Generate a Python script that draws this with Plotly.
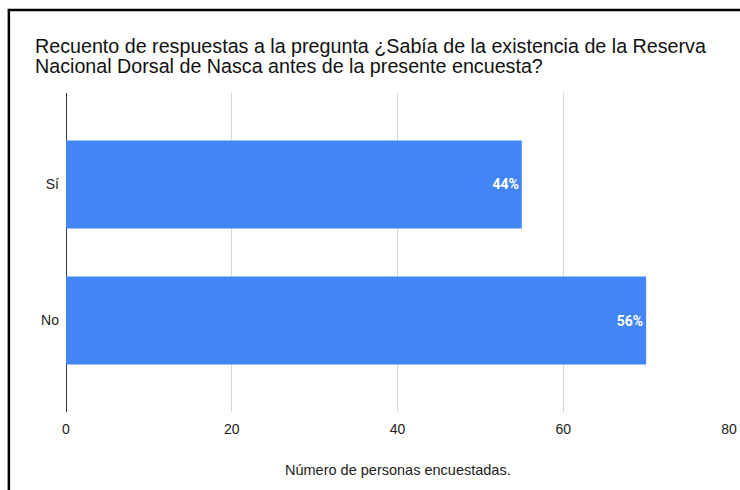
import plotly.graph_objects as go

categories = ["Sí", "No"]
values = [55, 70]
x_ticks = [0, 20, 40, 60, 80]
title_line1 = "Recuento de respuestas a la pregunta ¿Sabía de la existencia de la Reserva"
title_line2 = "Nacional Dorsal de Nasca antes de la presente encuesta?"
x_title = "Número de personas encuestadas."

total = sum(values)
labels = [f"{round(v / total * 100)}%" for v in values]

fig = go.Figure(go.Bar(
    y=categories, x=values, orientation="h",
    marker=dict(color="#4285F4", line=dict(width=0)),
    text=labels, textposition="inside", insidetextanchor="end",
    textfont=dict(family="Roboto", size=14, color="white", weight="bold"),
    width=0.647,
    cliponaxis=False,
))

fig.update_layout(
    width=740, height=490,
    margin=dict(l=66, r=11, t=93, b=78),
    paper_bgcolor="white", plot_bgcolor="white",
    font=dict(family="Liberation Sans, Arial", size=14, color="#222"),
    showlegend=False,
    xaxis=dict(range=[0, 80], tickvals=x_ticks, showgrid=True, gridcolor="#d6d6d6",
               gridwidth=1, zeroline=True, zerolinecolor="#333", zerolinewidth=1,
               showline=False, ticks="", ticklabelstandoff=7, automargin=False,
               tickfont=dict(size=14, color="#222")),
    yaxis=dict(categoryorder="array", categoryarray=categories,
               range=[1.672, -0.672], showgrid=False, zeroline=False, showline=False,
               ticks="", ticklabelstandoff=6, automargin=False,
               tickfont=dict(size=14, color="#222")),
    annotations=[
        dict(text=title_line1, xref="paper", yref="paper", x=-0.0499, y=1.148,
             xanchor="left", yanchor="middle", showarrow=False,
             font=dict(size=19.7, color="#111")),
        dict(text=title_line2, xref="paper", yref="paper", x=-0.0499, y=1.086,
             xanchor="left", yanchor="middle", showarrow=False,
             font=dict(size=19.7, color="#111")),
        dict(text=x_title, xref="paper", yref="paper", x=0.5, y=-0.181,
             xanchor="center", yanchor="middle", showarrow=False,
             font=dict(size=14.5, color="#222")),
    ],
    shapes=[
        dict(type="rect", xref="paper", yref="paper", x0=-0.0862, x1=1.2,
             y0=-0.6, y1=1.260, line=dict(color="black", width=2.5),
             fillcolor="rgba(0,0,0,0)", layer="above"),
    ],
)

fig.write_html("out.html", config={"displayModeBar": False},
               post_script="document.body.style.margin='0';document.body.style.overflow='hidden';")
